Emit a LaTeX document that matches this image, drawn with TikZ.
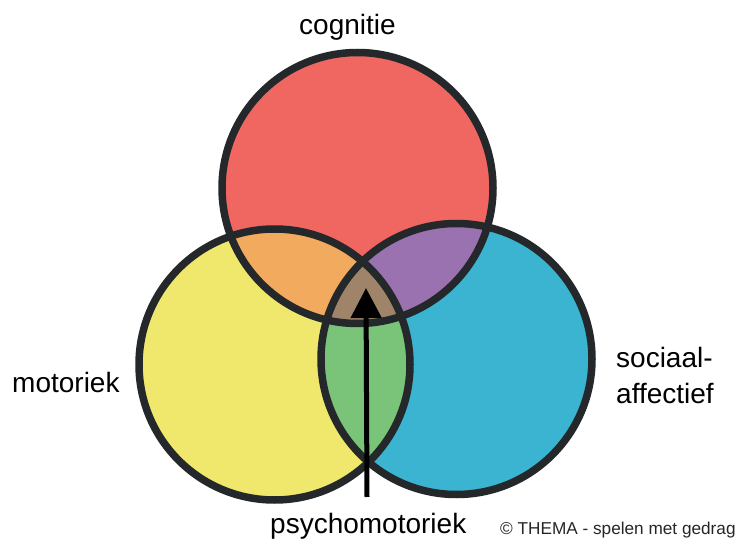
\documentclass[tikz,border=0pt]{standalone}
\usepackage{fontspec}
\setmainfont{Liberation Sans}
\usetikzlibrary{arrows.meta}
\definecolor{cogred}{HTML}{F06660}
\definecolor{motyellow}{HTML}{F0E86C}
\definecolor{socblue}{HTML}{3AB4D0}
\definecolor{mixorange}{HTML}{F2AA5E}
\definecolor{mixpurple}{HTML}{9B72B0}
\definecolor{mixgreen}{HTML}{7AC47A}
\definecolor{mixbrown}{HTML}{A0846A}
\definecolor{ringline}{HTML}{25282B}

\begin{document}
\begin{tikzpicture}[x=1pt, y=-1pt, ring/.style={draw=ringline, line width=7.5pt}, word/.style={inner sep=0pt, anchor=base west, font=\fontsize{28}{34}\selectfont}, smallword/.style={inner sep=0pt, anchor=base west, font=\fontsize{17.2}{20}\selectfont, text=black!85}, arrowline/.style={line width=5pt, -{Triangle[width=30pt,length=30pt]}}]
    \useasboundingbox (0,0) rectangle (737,540);

    %Circles
    \coordinate (cog) at (357.5,188);
    \coordinate (mot) at (274.5,364.5);
    \coordinate (soc) at (456.5,359);
    \fill[cogred] (cog) circle[radius=135.5];
    \fill[motyellow] (mot) circle[radius=135.5];
    \fill[socblue] (soc) circle[radius=135.5];

    %Overlaps
    \begin{scope}
        \clip (cog) circle[radius=135.5];
        \fill[mixorange] (mot) circle[radius=135.5];
        \fill[mixpurple] (soc) circle[radius=135.5];
    \end{scope}
    \begin{scope}
        \clip (mot) circle[radius=135.5];
        \fill[mixgreen] (soc) circle[radius=135.5];
        \clip (soc) circle[radius=135.5];
        \fill[mixbrown] (cog) circle[radius=135.5];
    \end{scope}
    \draw[ring] (cog) circle[radius=135.5];
    \draw[ring] (mot) circle[radius=135.5];
    \draw[ring] (soc) circle[radius=135.5];

    %Nodes
    \node[word](cognitie) at (299,35){cognitie};
    \node[word](motoriek) at (12,392){motoriek};
    \node[word](sociaal) at (616,367){sociaal-};
    \node[word](affectief) at (616,403){affectief};
    \node[word](psycho) at (270,533){psychomotoriek};
    \node[smallword](credit) at (500,534){© THEMA - spelen met gedrag};
    \coordinate (arrowstart) at (367,497);
    \coordinate (centre) at (366,288);

    %Lines
    \draw[arrowline] (arrowstart) -- (centre);

\end{tikzpicture}
\end{document}
